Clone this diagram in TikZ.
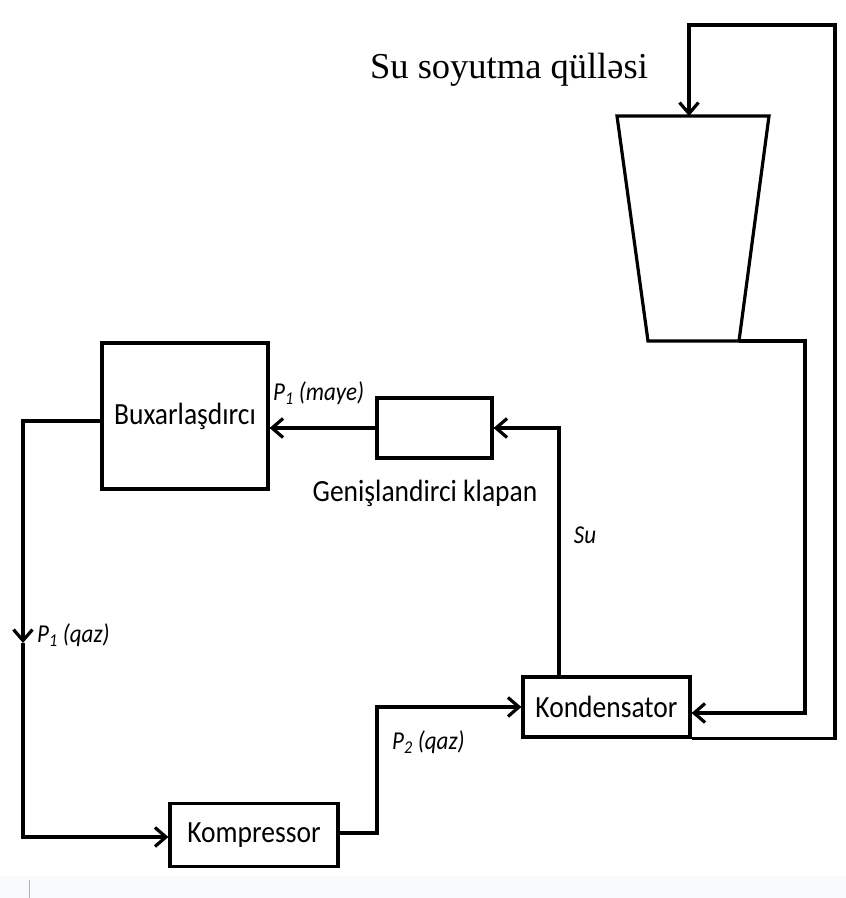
\documentclass[tikz,border=0pt]{standalone}
\usepackage{fontspec}
\setmainfont{Carlito}
\newfontfamily\titlefont{Liberation Serif}
\usetikzlibrary{arrows.meta}
\definecolor{bandgray}{HTML}{F8F9FA}
\newcommand{\tallish}[1]{\scalebox{1}[1.12]{#1}}
\begin{document}
\begin{tikzpicture}[x=1pt,y=-1pt,
  box/.style={draw, line width=3.2pt, inner sep=0pt, font=\fontsize{27.5}{30}\selectfont},
  wire/.style={line width=3.2pt},
  arr/.style={wire, -{Straight Barb[length=11pt,width=19pt]}},
  lbl/.style={font=\fontsize{23}{26}\selectfont\itshape, inner sep=0pt}]
\useasboundingbox (0,0) rectangle (846,898);
\fill[bandgray] (0,876) rectangle (846,898);
\draw[gray!60, line width=0.8pt] (29,880) -- (29,898);

% title
\node[font=\titlefont\fontsize{36.5}{40}\selectfont, anchor=base, inner sep=0pt] (title) at (509,78) {Su soyutma qülləsi};

% boxes
\node[box, minimum width=166pt, minimum height=146pt] (bux) at (185,416) {\raisebox{4pt}{\tallish{Buxarlaşdırcı}}};
\node[box, minimum width=115pt, minimum height=60pt] (valve) at (434.5,428) {};
\node[box, minimum width=168pt, minimum height=63pt] (komp) at (254,835) {\tallish{Kompressor}};
\node[box, minimum width=167pt, minimum height=60pt] (kond) at (606.5,707) {\tallish{Kondensator}};

% tower
\coordinate (tl) at (617,116);
\coordinate (tr) at (769,116);
\coordinate (br) at (739,341);
\coordinate (bl) at (648,341);
\coordinate (tin) at (689,116);
\draw[wire] (tl) -- (tr) -- (br) -- (bl) -- cycle;

% helper coordinates
\coordinate (r1) at (835,25);
\coordinate (r2) at (805,341);
\coordinate (pq) at (23,643);
\coordinate (c1) at (377,707);

% connectors
\draw[arr] (kond.south east) -| (r1) -| (tin);
\draw[arr] (br) -- (r2) |- ([yshift=-6pt]kond.east);
\draw[arr] ([xshift=-47.5pt]kond.north) |- (valve.east);
\draw[arr] (valve.west) -- (valve.west -| bux.east);
\draw[arr] ([yshift=-5pt]bux.west) -| (pq);
\draw[arr] (pq) |- ([yshift=-2pt]komp.west);
\draw[arr] ([yshift=2pt]komp.east) -| (c1) -- (kond.west);

% labels
\node[lbl, anchor=west] (lmaye) at (273,393) {\tallish{P\textsubscript{1} (maye)}};
\node[font=\fontsize{27.5}{30}\selectfont, inner sep=0pt] (gen) at (425,493) {\tallish{Genişlandirci klapan}};
\node[lbl] (su) at (585,535) {\tallish{Su}};
\node[lbl, anchor=west] (lqaz1) at (37,635) {\tallish{P\textsubscript{1} (qaz)}};
\node[lbl, anchor=west] (lqaz2) at (392,742) {\tallish{P\textsubscript{2} (qaz)}};
\end{tikzpicture}
\end{document}
